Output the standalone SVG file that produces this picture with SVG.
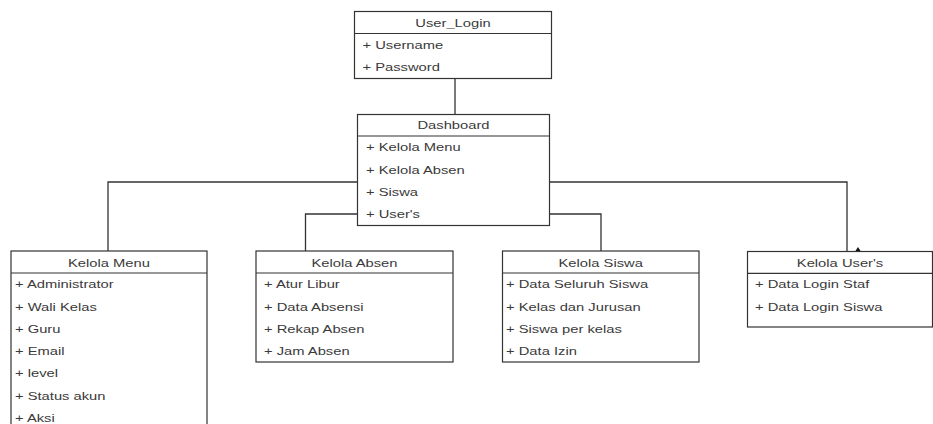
<svg xmlns="http://www.w3.org/2000/svg" width="933" height="424" viewBox="0 0 933 424">
<style>
.box{fill:#fff;stroke:#333;stroke-width:1.2}
.sep{stroke:#333;stroke-width:1.2}
.conn{fill:none;stroke:#333;stroke-width:1.3}
text{font-family:"Liberation Sans",Arial,sans-serif;font-size:11px;fill:#3a3a3a}
.h{text-anchor:middle}
</style>
<rect width="933" height="424" fill="#fff"/>
<g id="connectors">
<path class="conn" d="M455 78.5V114.5"/>
<path class="conn" d="M357.5 182H108V251"/>
<path class="conn" d="M549.5 182H847V251.5"/>
<path class="conn" d="M357.5 214H305.5V251"/>
<path class="conn" d="M549.5 214H601V251"/>
<polygon points="853.8,253.5 862.2,253.5 858,247" fill="#111"/>
</g>
<g id="user_login">
<rect class="box" x="354.5" y="11.5" width="197" height="67"/>
<line class="sep" x1="354.5" y1="33.5" x2="551.5" y2="33.5"/>
<text class="h" transform="translate(453 26.5) scale(1.34 1)">User_Login</text>
<text transform="translate(362.5 48.5) scale(1.34 1)">+ Username</text>
<text transform="translate(362.5 71) scale(1.34 1)">+ Password</text>
</g>
<g id="dashboard">
<rect class="box" x="357.5" y="114.5" width="192" height="111"/>
<line class="sep" x1="357.5" y1="136" x2="549.5" y2="136"/>
<text class="h" transform="translate(453.5 129) scale(1.34 1)">Dashboard</text>
<text transform="translate(366 151.3) scale(1.34 1)">+ Kelola Menu</text>
<text transform="translate(366 173.6) scale(1.34 1)">+ Kelola Absen</text>
<text transform="translate(366 196.3) scale(1.34 1)">+ Siswa</text>
<text transform="translate(366 217.6) scale(1.34 1)">+ User's</text>
</g>
<g id="kelola_menu">
<rect class="box" x="11" y="251" width="196" height="190"/>
<line class="sep" x1="11" y1="273" x2="207" y2="273"/>
<text class="h" transform="translate(109 267) scale(1.34 1)">Kelola Menu</text>
<text transform="translate(15 288.3) scale(1.34 1)">+ Administrator</text>
<text transform="translate(15 310.7) scale(1.34 1)">+ Wali Kelas</text>
<text transform="translate(15 333.3) scale(1.34 1)">+ Guru</text>
<text transform="translate(15 355) scale(1.34 1)">+ Email</text>
<text transform="translate(15 377) scale(1.34 1)">+ level</text>
<text transform="translate(15 399.7) scale(1.34 1)">+ Status akun</text>
<text transform="translate(15 421.7) scale(1.34 1)">+ Aksi</text>
</g>
<g id="kelola_absen">
<rect class="box" x="256" y="251" width="197" height="111"/>
<line class="sep" x1="256" y1="273" x2="453" y2="273"/>
<text class="h" transform="translate(354.5 267) scale(1.34 1)">Kelola Absen</text>
<text transform="translate(264 288.3) scale(1.34 1)">+ Atur Libur</text>
<text transform="translate(264 311) scale(1.34 1)">+ Data Absensi</text>
<text transform="translate(264 333.3) scale(1.34 1)">+ Rekap Absen</text>
<text transform="translate(264 355) scale(1.34 1)">+ Jam Absen</text>
</g>
<g id="kelola_siswa">
<rect class="box" x="502.5" y="251" width="196.5" height="111"/>
<line class="sep" x1="502.5" y1="273" x2="699" y2="273"/>
<text class="h" transform="translate(600.7 267) scale(1.34 1)">Kelola Siswa</text>
<text transform="translate(506 288.3) scale(1.34 1)">+ Data Seluruh Siswa</text>
<text transform="translate(506 311) scale(1.34 1)">+ Kelas dan Jurusan</text>
<text transform="translate(506 333.3) scale(1.34 1)">+ Siswa per kelas</text>
<text transform="translate(506 355) scale(1.34 1)">+ Data Izin</text>
</g>
<g id="kelola_users">
<rect class="box" x="747.5" y="251.5" width="185" height="75.5"/>
<line class="sep" x1="747.5" y1="273.3" x2="932.5" y2="273.3"/>
<text class="h" transform="translate(840 267) scale(1.34 1)">Kelola User's</text>
<text transform="translate(755 287.7) scale(1.34 1)">+ Data Login Staf</text>
<text transform="translate(755 311.3) scale(1.34 1)">+ Data Login Siswa</text>
</g>
</svg>
